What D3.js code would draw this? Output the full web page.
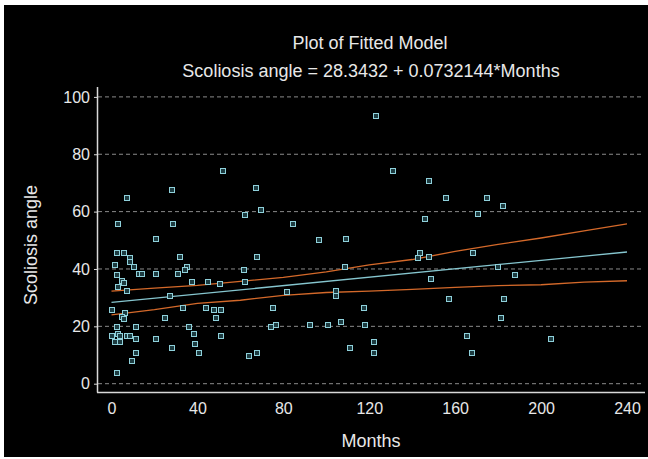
<!DOCTYPE html>
<html><head><meta charset="utf-8">
<script src="https://cdn.jsdelivr.net/npm/d3@7"></script>
<style>html,body{margin:0;padding:0;background:#fff;}svg{display:block;}</style>
</head><body>
<script>
// Scatter data (Months, Scoliosis angle)
const months = [28.0,7.2,3.2,28.8,20.7,2.4,5.6,31.9,8.75,8.75,1.6,10.3,35.0,34.4,2.4,12.8,14.3,20.7,31.1,37.5,4.7,5.6,3.2,7.2,27.1,0,33.5,6.3,4.7,5.6,24.8,2.4,11.2,35.9,0,3.2,4.0,7.2,8.75,11.2,1.6,4.0,20.7,38.3,39.0,28.0,11.2,9.5,2.4,40.6,51.9,67.1,62.3,69.5,84.6,96.6,67.9,61.5,44.7,50.3,62.2,81.5,104.3,104.5,44.0,47.9,51.1,48.8,75.0,74.4,76.6,92.6,100.7,51.1,63.9,67.9,123.0,130.9,147.7,155.7,146.1,170.6,109.4,143.6,142.8,147.7,168.4,108.7,148.6,157.3,117.4,107.0,118.2,122.1,111.0,122.1,165.4,167.7,175.0,182.1,179.8,187.7,182.9,181.3,204.5];
const angle = [67.7,64.7,55.7,55.7,50.4,45.6,45.6,44.3,43.9,42.6,41.3,40.8,40.8,39.7,37.8,38.4,38.4,38.4,38.4,35.4,35.7,35.1,33.6,32.4,30.7,25.8,26.4,24.7,23.1,22.6,22.8,19.8,19.8,19.8,16.8,17.4,16.8,16.8,16.8,15.6,14.4,14.4,15.6,17.3,13.9,12.6,10.8,7.8,3.6,10.8,74.3,68.4,58.8,60.5,55.8,50.1,44.3,39.6,35.4,34.8,35.4,31.8,32.4,30.6,26.4,25.8,25.8,22.8,26.4,19.8,20.4,20.4,20.4,16.7,9.7,10.8,93.5,74.3,70.7,64.8,57.6,59.3,50.4,45.5,43.8,44.3,45.5,40.8,36.5,29.4,26.4,21.6,20.4,14.4,12.6,10.8,16.8,10.8,64.7,61.8,40.8,37.8,29.4,22.8,15.6];
// Fitted line: Scoliosis angle = 28.3432 + 0.0732144*Months
const fitX = [0, 240];
const fitY = [28.34, 45.92];
// Confidence limits
const bandX = [0,20,40,60,80,100,120,140,160,180,200,220,240];
const upperY = [32.3,33.3,34.3,35.7,37.1,39.0,41.4,43.3,46.1,48.6,50.8,53.3,55.7];
const lowerY = [24.0,25.8,28.0,29.1,30.8,31.8,32.3,32.9,33.6,34.2,34.5,35.4,35.9];
const xTicks = [0,40,80,120,160,200,240];
const yTicks = [0,20,40,60,80,100];
const title = "Plot of Fitted Model";
const subtitle = "Scoliosis angle = 28.3432 + 0.0732144*Months";
const xLabel = "Months", yLabel = "Scoliosis angle";

const W = 648, H = 459;
const svg = d3.select("body").append("svg").attr("width", W).attr("height", H);
svg.append("rect").attr("x",4).attr("y",5).attr("width",W-4).attr("height",H-7).attr("fill","#000");

const x = d3.scaleLinear().domain([0,240]).range([111.5,627]);
const y = d3.scaleLinear().domain([0,100]).range([383.7,96.9]);
const font = "Liberation Sans, Arial, sans-serif";
const txt = "#e8e8e8";

// gridlines
svg.append("g").selectAll("line").data(yTicks).join("line")
  .attr("x1",98).attr("x2",644).attr("y1",d=>y(d)).attr("y2",d=>y(d))
  .attr("stroke","#8a8a8a").attr("stroke-width",1).attr("stroke-dasharray","4,3");

// axes frame
svg.append("line").attr("x1",97.5).attr("x2",97.5).attr("y1",87).attr("y2",392.5).attr("stroke","#d8d8d8").attr("stroke-width",1.5);
svg.append("line").attr("x1",97).attr("x2",645).attr("y1",392.5).attr("y2",392.5).attr("stroke","#d8d8d8").attr("stroke-width",1.5);

// y axis ticks + labels
const yAxis = d3.axisLeft(y).tickValues(yTicks).tickSize(3).tickPadding(4);
const gy = svg.append("g").attr("transform","translate(97,0)").call(yAxis);
gy.select(".domain").remove();
gy.selectAll(".tick line").attr("stroke","#d8d8d8");
gy.selectAll("text").attr("fill",txt).attr("font-family",font).attr("font-size",16);

// x axis labels
const xAxis = d3.axisBottom(x).tickValues(xTicks).tickSize(0).tickPadding(11);
const gx = svg.append("g").attr("transform","translate(0,392)").call(xAxis);
gx.select(".domain").remove();
gx.selectAll("text").attr("fill",txt).attr("font-family",font).attr("font-size",16);

// bands
const line = d3.line().x(d=>x(d[0])).y(d=>y(d[1]));
svg.append("path").datum(bandX.map((v,i)=>[v,upperY[i]])).attr("d",line).attr("fill","none").attr("stroke","#d4692a").attr("stroke-width",1.3);
svg.append("path").datum(bandX.map((v,i)=>[v,lowerY[i]])).attr("d",line).attr("fill","none").attr("stroke","#d4692a").attr("stroke-width",1.3);
svg.append("path").datum(fitX.map((v,i)=>[v,fitY[i]])).attr("d",line).attr("fill","none").attr("stroke","#86c6cf").attr("stroke-width",1.3);

// points
svg.append("g").selectAll("rect").data(months.map((m,i)=>[m,angle[i]])).join("rect")
  .attr("x",d=>Math.round(x(d[0]))-2.5).attr("y",d=>Math.round(y(d[1]))-2.5)
  .attr("width",5).attr("height",5)
  .attr("fill","#1d3b40").attr("stroke","#8fd0da").attr("stroke-width",1);

// titles
svg.append("text").attr("x",370).attr("y",49).attr("text-anchor","middle").attr("fill",txt)
  .attr("font-family",font).attr("font-size",18).text(title);
svg.append("text").attr("x",371).attr("y",77).attr("text-anchor","middle").attr("fill",txt)
  .attr("font-family",font).attr("font-size",18).text(subtitle);
svg.append("text").attr("x",371).attr("y",447).attr("text-anchor","middle").attr("fill",txt)
  .attr("font-family",font).attr("font-size",18).text(xLabel);
svg.append("text").attr("transform","translate(37,245) rotate(-90)").attr("text-anchor","middle").attr("fill",txt)
  .attr("font-family",font).attr("font-size",18).text(yLabel);
</script>
</body></html>
